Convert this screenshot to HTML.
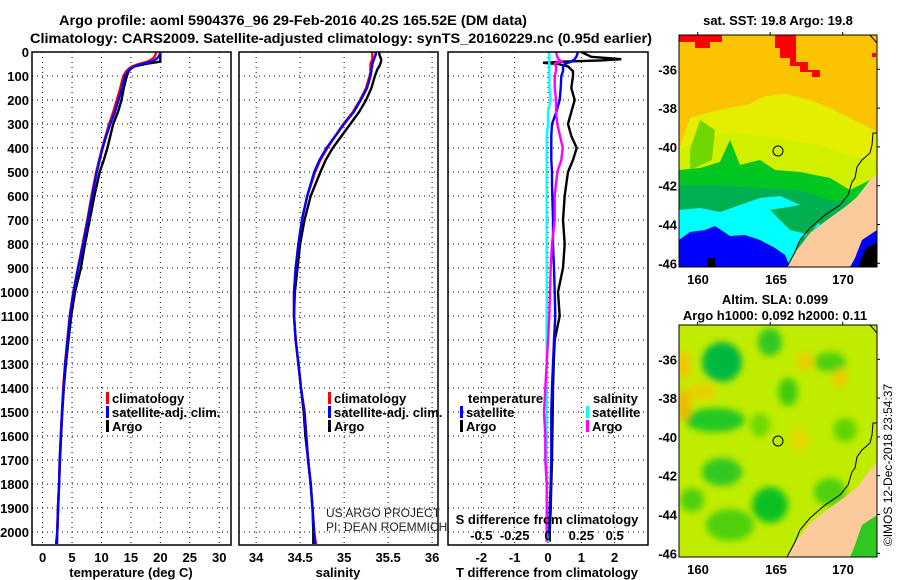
<!DOCTYPE html>
<html><head><meta charset="utf-8"><style>
html,body{margin:0;padding:0;background:#fff;}
svg{display:block;font-family:"Liberation Sans",sans-serif;}
.b{font-weight:bold;}
</style></head><body>
<svg id="c" width="900" height="580" viewBox="0 0 900 580" xmlns="http://www.w3.org/2000/svg">
<defs>
<filter id="blur" x="-20%" y="-20%" width="140%" height="140%"><feGaussianBlur stdDeviation="3.5"/></filter>
<clipPath id="m1c"><rect x="679" y="35" width="198" height="232"/></clipPath>
<clipPath id="m2c"><rect x="679" y="325" width="198" height="232"/></clipPath>
</defs>
<text class="b" x="59" y="25" font-size="14" textLength="468" lengthAdjust="spacingAndGlyphs">Argo profile: aoml 5904376_96 29-Feb-2016 40.2S 165.52E (DM data)</text>
<text class="b" x="30" y="43" font-size="14" textLength="622" lengthAdjust="spacingAndGlyphs">Climatology: CARS2009. Satellite-adjusted climatology: synTS_20160229.nc (0.95d earlier)</text>
<g id="plots"></g>
<!-- SST map -->
<g>
<text class="b" x="778" y="25" font-size="13" text-anchor="middle">sat. SST: 19.8 Argo: 19.8</text>
<g clip-path="url(#m1c)">
<rect x="679" y="35" width="198" height="232" fill="#fcc400"/>
<polygon fill="#ff0000" points="679,35 722,35 722,42 710,42 710,48 695,48 695,42 679,42"/>
<polygon fill="#ff0000" points="775,35 796,35 796,62 808,62 808,70 820,70 820,77 812,77 812,72 800,72 800,66 790,66 790,58 780,58 780,48 775,48"/>
<rect x="872" y="53" width="4" height="4" fill="#ff0000"/>
<polygon fill="#e6ee00" points="679,150 690,118 710,112 730,108 750,104 765,96 785,94 810,100 830,108 850,118 870,128 877,132 877,200 679,200"/>
<polygon fill="#d0f000" points="679,150 700,138 730,132 760,135 790,140 820,145 850,155 877,160 877,210 679,210"/>
<polygon fill="#70d800" points="690,150 700,120 715,130 712,160 690,170"/>
<polygon fill="#00c820" points="679,205 679,170 700,168 720,162 730,140 740,165 760,160 775,170 800,172 830,178 850,190 870,180 877,190 877,240 679,240"/>
<polygon fill="#00b050" points="679,250 679,185 720,185 760,188 800,190 830,200 860,200 877,210 877,250"/>
<polygon fill="#00ffff" points="679,245 679,210 700,208 720,212 740,205 760,198 780,196 800,205 820,225 800,240 790,267 679,267"/>
<polygon fill="#00b050" points="770,210 800,205 820,220 810,235 790,230"/>
<polygon fill="#0000ff" points="679,267 679,240 690,232 705,230 715,226 730,236 745,235 760,240 775,248 785,255 790,267"/>
<rect x="707" y="258" width="8" height="9" fill="#000"/>
<polygon fill="#fbcb9b" points="877,173 870,180 857,197 845,207 827,220 810,233 797,250 787,267 877,267"/>
<polygon fill="#0000ff" points="877,230 862,240 855,258 850,267 877,267"/>
<polygon fill="#000" points="877,243 866,248 860,262 860,267 877,267"/>
<polyline fill="none" stroke="#000" stroke-width="1" points="877,133 873,133 872,145 870,153 862,160 857,167 855,178 852,182 848,195 840,205 825,215 810,228 800,240 795,252 787,267"/>
<polyline fill="none" stroke="#000" stroke-width="1" points="870,35 877,43"/>
<circle cx="778" cy="151" r="5" fill="none" stroke="#000" stroke-width="1"/>
</g>
<rect x="679" y="35" width="198" height="232" fill="none" stroke="#000" stroke-width="1"/>
</g>
<!-- SLA map -->
<g>
<text class="b" x="775" y="304" font-size="13" text-anchor="middle">Altim. SLA: 0.099</text>
<text class="b" x="775" y="320" font-size="13" text-anchor="middle">Argo h1000: 0.092 h2000: 0.11</text>
<g clip-path="url(#m2c)">
<rect x="679" y="325" width="198" height="232" fill="#c0ec00"/>
<g filter="url(#blur)">
<ellipse cx="722" cy="362" rx="20" ry="20" fill="#00b840"/>
<ellipse cx="715" cy="420" rx="30" ry="12" fill="#20c820"/>
<ellipse cx="722" cy="472" rx="20" ry="14" fill="#30c820"/>
<ellipse cx="684" cy="405" rx="7" ry="16" fill="#f0b800"/>
<ellipse cx="684" cy="365" rx="7" ry="14" fill="#f0c800"/>
<ellipse cx="702" cy="392" rx="14" ry="9" fill="#e8d000"/>
<ellipse cx="770" cy="342" rx="12" ry="14" fill="#30c820"/>
<ellipse cx="788" cy="392" rx="10" ry="14" fill="#40cc10"/>
<ellipse cx="770" cy="505" rx="18" ry="18" fill="#10c020"/>
<ellipse cx="830" cy="362" rx="16" ry="10" fill="#50d010"/>
<ellipse cx="840" cy="378" rx="7" ry="9" fill="#f0c800"/>
<ellipse cx="805" cy="362" rx="9" ry="9" fill="#e8d000"/>
<ellipse cx="800" cy="440" rx="9" ry="11" fill="#e8d800"/>
<ellipse cx="730" cy="525" rx="24" ry="16" fill="#50d010"/>
<ellipse cx="692" cy="500" rx="12" ry="12" fill="#50d010"/>
<ellipse cx="830" cy="492" rx="16" ry="14" fill="#50d010"/>
<ellipse cx="845" cy="430" rx="12" ry="12" fill="#60d400"/>
<ellipse cx="760" cy="425" rx="10" ry="12" fill="#70d800"/>
</g>
<polygon fill="#fbcb9b" points="877,463 870,470 857,487 845,497 827,510 810,523 797,540 787,557 877,557"/>
<polygon fill="#30c820" points="877,515 862,525 855,545 850,557 877,557"/>
<polyline fill="none" stroke="#000" stroke-width="1" points="877,423 873,423 872,435 870,443 862,450 857,457 855,468 852,472 848,485 840,495 825,505 810,518 800,530 795,542 787,557"/>
<polyline fill="none" stroke="#000" stroke-width="1" points="870,325 877,333"/>
<circle cx="778" cy="441" r="5" fill="none" stroke="#000" stroke-width="1"/>
</g>
<rect x="679" y="325" width="198" height="232" fill="none" stroke="#000" stroke-width="1"/>
</g>
<text x="892" y="465" font-size="12" text-anchor="middle" transform="rotate(-90 892 465)">©IMOS 12-Dec-2018 23:54:37</text>
<text x="326" y="517" font-size="12" fill="#222">US ARGO PROJECT</text>
<text x="326" y="531" font-size="12" fill="#222">PI: DEAN ROEMMICH</text>
</svg>
<script>
// ---- data ----
const depths = [0,10,20,30,40,50,60,70,80,100,150,200,250,300,350,400,450,500,600,700,800,900,1000,1100,1200,1300,1400,1500,1600,1700,1800,1900,2000,2050];
const tempClim = [19.3,19.2,19.0,18.6,17.8,16.3,15.2,14.6,14.2,13.7,13.2,12.6,12.0,11.3,10.7,10.1,9.6,9.1,8.3,7.6,6.8,6.0,5.2,4.6,4.2,3.8,3.5,3.3,3.1,2.9,2.8,2.6,2.5,2.3];
const tempSat = [20.0,19.9,19.7,19.3,18.5,16.9,15.6,14.9,14.5,14.0,13.5,12.9,12.3,11.5,10.8,10.2,9.7,9.2,8.4,7.7,6.9,6.05,5.25,4.65,4.25,3.85,3.55,3.3,3.1,2.9,2.8,2.6,2.5,2.3];
const tempArgo = [20.0,20.0,20.0,20.0,20.0,17.5,15.6,15.0,14.6,14.3,13.8,13.4,12.8,12.0,11.5,11.0,10.4,9.7,8.8,8.0,7.2,6.5,5.5,4.85,4.4,3.95,3.6,3.35,3.15,2.95,2.8,2.65,2.5,2.45];
const salClim = [35.32,35.32,35.32,35.32,35.31,35.30,35.30,35.30,35.30,35.29,35.25,35.18,35.10,34.99,34.90,34.81,34.73,34.67,34.58,34.52,34.48,34.45,34.43,34.43,34.45,34.48,34.51,34.55,34.57,34.59,34.62,34.64,34.66,34.68];
const salSat = [35.36,35.36,35.35,35.34,35.33,35.32,35.32,35.31,35.31,35.30,35.26,35.19,35.11,35.00,34.90,34.80,34.72,34.66,34.58,34.52,34.48,34.45,34.43,34.43,34.45,34.48,34.51,34.55,34.57,34.59,34.62,34.64,34.66,34.67];
const salArgo = [35.40,35.40,35.41,35.42,35.42,35.41,35.40,35.38,35.37,35.35,35.31,35.25,35.17,35.07,34.97,34.87,34.79,34.73,34.62,34.55,34.50,34.47,34.44,34.43,34.45,34.48,34.51,34.54,34.56,34.59,34.62,34.64,34.65,34.65];
const diffDepths = [0,20,30,35,40,45,50,60,80,100,150,200,250,300,350,400,450,500,550,600,700,800,900,1000,1100,1200,1300,1400,1500,1600,1700,1800,1900,2000,2040];
const tDiffArgo = [1.0,1.3,2.2,1.6,0.5,-0.15,0.3,0.6,0.75,0.75,0.7,0.8,0.7,0.6,0.7,0.86,0.75,0.6,0.55,0.5,0.45,0.5,0.45,0.3,0.35,0.2,0.17,0.15,0.14,0.13,0.12,0.1,0.08,0.05,0.05];
const tDiffSat = [0.9,0.85,0.8,0.75,0.7,0.6,0.5,0.45,0.45,0.4,0.38,0.35,0.25,0.12,0.1,0.1,0.1,0.12,0.12,0.13,0.15,0.15,0.18,0.2,0.22,0.18,0.15,0.12,0.1,0.1,0.1,0.08,0.05,0.04,0.03];
const sDiffSat = [0.01,0.01,0.01,0.01,0.01,0.01,0.01,0.01,0.01,0.01,0.01,0.02,0.0,0.0,-0.01,-0.01,-0.01,-0.01,-0.01,-0.01,-0.01,-0.01,-0.01,-0.01,-0.01,-0.01,-0.01,-0.01,-0.01,-0.01,-0.01,-0.01,-0.01,-0.01,0.0];
const sDiffArgo = [0.06,0.07,0.08,0.09,0.1,0.06,0.05,0.06,0.06,0.05,0.05,0.06,0.06,0.07,0.09,0.11,0.1,0.07,0.06,0.05,0.05,0.03,0.02,0.015,0.01,0.0,-0.01,-0.02,-0.03,-0.02,-0.02,-0.01,-0.01,-0.01,-0.01];
const depthTicks = [0,100,200,300,400,500,600,700,800,900,1000,1100,1200,1300,1400,1500,1600,1700,1800,1900,2000];
const tempTicks = [0,5,10,15,20,25,30];
const salTicks = [34,34.5,35,35.5,36];
const tDiffTicks = [-2,-1,0,1,2];
const sDiffTicks = [-0.5,-0.25,0,0.25,0.5];
const sDiffTickLabels = ["-0.5","-0.25","0","0.25","0.5"];
const mapLatTicks = [-36,-38,-40,-42,-44,-46];
const mapLonTicks = [160,165,170];

const NS = "http://www.w3.org/2000/svg";
const root = document.getElementById('plots');
function mk(tag, attrs, parent){const e=document.createElementNS(NS,tag);for(const k in attrs)e.setAttribute(k,attrs[k]);(parent||root).appendChild(e);return e;}
const Y0=52, Y1=545, DMAX=(Y1-Y0)/0.24;
function yScale(d){return Y0+(d/DMAX)*(Y1-Y0);}
function xScaleFor(p){return v=>p.x0+(v-p.d0)/(p.d1-p.d0)*(p.x1-p.x0);}
const P1={x0:32,x1:231,d0:-1.8,d1:32.0};
const P2={x0:239,x1:438,d0:33.805,d1:36.067};
const P3={x0:448,x1:648,d0:-3,d1:3};
const P3s={x0:448,x1:648,d0:-0.75,d1:0.75};

function grid(p, ticks){
  const xs=xScaleFor(p);
  ticks.forEach(t=>{const l=mk('line',{x1:xs(t),x2:xs(t),y1:Y0,y2:Y1,stroke:'#000','stroke-width':1,'stroke-dasharray':'1,4'});
    
    });
  depthTicks.forEach(d=>{const l=mk('line',{x1:p.x0,x2:p.x1,y1:yScale(d),y2:yScale(d),stroke:'#000','stroke-width':1,'stroke-dasharray':'1,4'});
    
    });
}
function frame(p,name){
  const r=mk('rect',{x:p.x0,y:Y0,width:p.x1-p.x0,height:Y1-Y0,fill:'none',stroke:'#000','stroke-width':1.5});
  
  
}
function xLabels(p,ticks,labels,y,name){
  const xs=xScaleFor(p);
  ticks.forEach((t,i)=>{const e=mk('text',{x:xs(t),y:y,'font-size':13,'font-weight':'bold','text-anchor':'middle'});e.textContent=labels?labels[i]:String(t);
    
    });
}
function line(p, xsArr, dArr, color, name, w){
  const xs=xScaleFor(p);
  let pts=[];
  for(let i=0;i<xsArr.length;i++){pts.push(xs(xsArr[i]).toFixed(1)+','+yScale(dArr[i]).toFixed(1));}
  const e=mk('polyline',{points:pts.join(' '),fill:'none',stroke:color,'stroke-width':w||2.4,'stroke-linejoin':'miter'});
  
  
}
function legendItem(x,y,color,label,name){
  const r=mk('rect',{x:x,y:y-11,width:3,height:12,fill:color});
  
  
  const t=mk('text',{x:x+6,y:y,'font-size':13,'font-weight':'bold'});t.textContent=label;
  
  
}
function title(x,y,s,name){const t=mk('text',{x:x,y:y,'font-size':13,'font-weight':'bold','text-anchor':'middle'});t.textContent=s;
  
  }

// panel 1 temperature
grid(P1,tempTicks);
depthTicks.forEach(d=>{const t=mk('text',{x:29,y:yScale(d)+5,'font-size':13,'font-weight':'bold','text-anchor':'end'});t.textContent=String(d);
  
  });
line(P1,tempArgo,depths,'#000','temp-argo-line');
line(P1,tempClim,depths,'#ff0000','temp-climatology-line');
line(P1,tempSat,depths,'#0000ff','temp-satellite-line');
frame(P1,'temperature-panel');
xLabels(P1,tempTicks,null,562,'temperature-tick-label');
title(131,577,'temperature (deg C)','temperature-axis-title');
legendItem(106,403,'#ff0000','climatology','legend-climatology');
legendItem(106,417,'#0000ff','satellite-adj. clim.','legend-satellite');
legendItem(106,431,'#000','Argo','legend-argo');

// panel 2 salinity
grid(P2,salTicks);
line(P2,salArgo,depths,'#000','sal-argo-line');
line(P2,salClim,depths,'#ff0000','sal-climatology-line');
line(P2,salSat,depths,'#0000ff','sal-satellite-line');
frame(P2,'salinity-panel');
xLabels(P2,salTicks,null,562,'salinity-tick-label');
title(338,577,'salinity','salinity-axis-title');
legendItem(328,403,'#ff0000','climatology','legend-sal-climatology');
legendItem(328,417,'#0000ff','satellite-adj. clim.','legend-sal-satellite');
legendItem(328,431,'#000','Argo','legend-sal-argo');

// panel 3 differences
grid(P3,tDiffTicks);
line(P3,tDiffArgo,diffDepths,'#000','tdiff-argo-line');
line(P3,tDiffSat,diffDepths,'#0000ff','tdiff-satellite-line');
line(P3s,sDiffSat,diffDepths,'#00ffff','sdiff-satellite-line');
line(P3s,sDiffArgo,diffDepths,'#ff00ff','sdiff-argo-line');
frame(P3,'difference-panel');
xLabels(P3,tDiffTicks,null,562,'tdiff-tick-label');
xLabels(P3s,sDiffTicks,sDiffTickLabels,540,'sdiff-tick-label');
title(547,577,'T difference from climatology','tdiff-axis-title');
title(547,524,'S difference from climatology','sdiff-axis-title');
(function(){const t=mk('text',{x:468,y:403,'font-size':13,'font-weight':'bold'});t.textContent='temperature';
  
  
  const s=mk('text',{x:593,y:403,'font-size':13,'font-weight':'bold'});s.textContent='salinity';
  
  })();
legendItem(460,417,'#0000ff','satellite','legend-tdiff-satellite');
legendItem(460,431,'#000','Argo','legend-tdiff-argo');
legendItem(586,417,'#00ffff','satellite','legend-sdiff-satellite');
legendItem(586,431,'#ff00ff','Argo','legend-sdiff-argo');

// map axes
const mapLatY1 = lat=>69.3+(-36-lat)*19.4;
const mapLonX = lon=>697.7+(lon-160)*14.5;
const mapLonLabelX = lon=>lon===165?776:(lon===160?698:843);
[[0,'sst'],[290,'sla']].forEach(([off,nm])=>{
  mapLatTicks.forEach(lat=>{const t=mk('text',{x:677,y:mapLatY1(lat)+off+5,'font-size':13,'font-weight':'bold','text-anchor':'end'});t.textContent=String(lat);
    
    
    const k=mk('line',{x1:877,x2:880,y1:mapLatY1(lat)+off,y2:mapLatY1(lat)+off,stroke:'#000'});
    
    });
  mapLonTicks.forEach(lon=>{const t=mk('text',{x:mapLonLabelX(lon),y:(off?557:267)+17,'font-size':13,'font-weight':'bold','text-anchor':'middle'});t.textContent=String(lon);
    
    
    const k=mk('line',{x1:mapLonX(lon),x2:mapLonX(lon),y1:(off?325:35)-3,y2:(off?325:35),stroke:'#000'});
    
    });
});
</script>
</body></html>
